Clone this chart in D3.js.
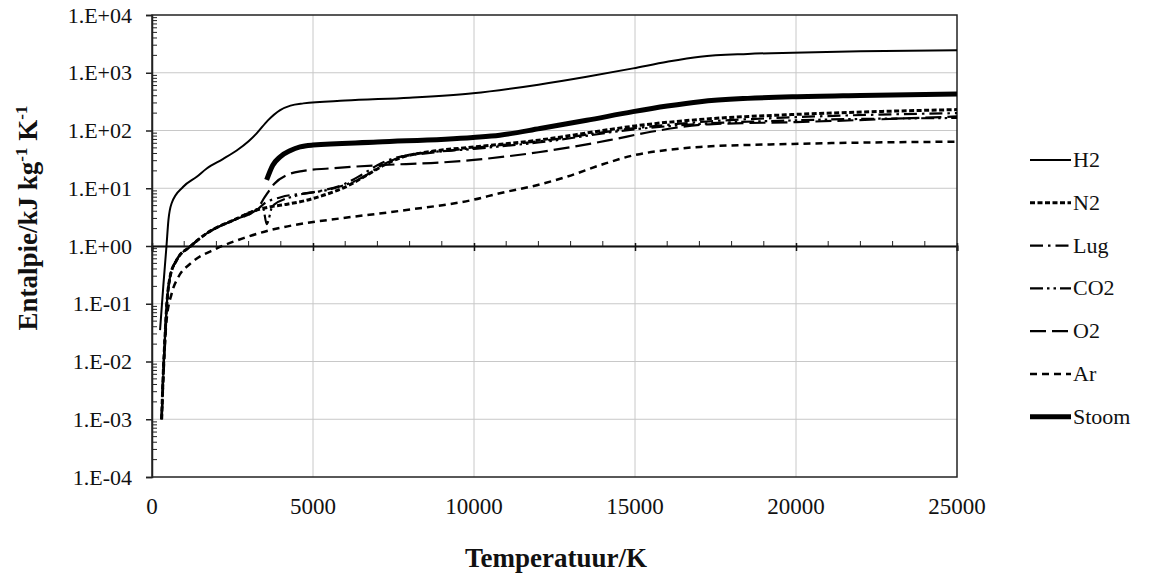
<!DOCTYPE html>
<html><head><meta charset="utf-8">
<script src="https://cdn.jsdelivr.net/npm/d3@7"></script>
<style>body{margin:0;background:#fff;} svg{display:block;font-family:"Liberation Serif","Times New Roman",serif;}</style>
</head><body>
<svg id="c" width="1174" height="574"></svg>
<script>
const xTicks = [0,5000,10000,15000,20000,25000];
const yTicks = [1e-4,1e-3,1e-2,1e-1,1,10,100,1000,10000];
const yTickLabels = ["1.E-04","1.E-03","1.E-02","1.E-01","1.E+00","1.E+01","1.E+02","1.E+03","1.E+04"];
const seriesNames = ["H2","N2","Lug","CO2","O2","Ar","Stoom"];

const H2 = [[250,0.035],[350,0.2],[450,1.0],[510,2.8],[610,5.5],[970,10.6],[1390,15.8],[1700,22],[2200,32],[2630,45],[3000,65],[3250,89],[3600,150],[3980,226],[4300,270],[4700,295],[6000,330],[8000,370],[9970,440],[12000,620],[13500,850],[14940,1190],[16000,1550],[17020,1900],[18500,2120],[19900,2230],[22000,2350],[25000,2460]];
const N2 = [[300,0.001],[350,0.0063],[400,0.024],[455,0.089],[560,0.29],[765,0.57],[1180,0.97],[1700,1.66],[2530,2.8],[3250,4.2],[3700,4.8],[4200,5.3],[4800,6.2],[5400,7.8],[6000,10.5],[6600,16],[7200,25],[7800,35],[8500,42],[10000,52],[12000,68],[14000,100],[15000,120],[17000,155],[20000,190],[25000,230]];
const Lug = [[300,0.001],[350,0.0063],[400,0.024],[455,0.089],[560,0.29],[765,0.57],[1180,0.97],[1700,1.66],[2530,2.8],[3250,4.2],[3500,5.5],[4000,7],[5000,8.5],[6000,12],[6500,17],[7000,25],[7500,33],[8500,40],[10000,50],[12000,65],[15000,110],[17000,140],[20000,170],[25000,200]];
const CO2 = [[300,0.001],[350,0.0063],[400,0.024],[455,0.089],[560,0.29],[765,0.57],[1180,0.97],[1700,1.66],[2530,2.8],[3250,4.2],[3450,4.5],[3560,2.4],[3750,5],[4500,7.5],[5500,9.5],[6500,15],[7200,26],[8000,38],[10000,48],[12000,62],[15000,105],[17000,130],[20000,150],[25000,165]];
const O2 = [[300,0.001],[350,0.0063],[400,0.024],[455,0.089],[560,0.29],[765,0.57],[1180,0.97],[1700,1.66],[2530,2.8],[3250,4.3],[3500,7],[3800,12],[4200,17],[4700,20],[5500,22],[7000,25],[9000,28],[10000,31],[12000,42],[14200,68],[15500,95],[17300,128],[20000,140],[25000,175]];
const Ar = [[300,0.001],[450,0.05],[610,0.15],[820,0.29],[1200,0.5],[2000,0.9],[2900,1.4],[3700,1.9],[4800,2.5],[5840,3],[7900,4.2],[9970,6.3],[10800,8.2],[11950,11.3],[12880,15.8],[14000,26],[14940,37],[16000,46],[17020,52],[19900,58.5],[25000,64]];
const Stoom = [[3560,13.9],[3750,25],[3980,35],[4300,45],[4600,52],[5000,56],[7000,63],[9970,76],[10800,83],[12050,108],[13500,150],[14940,212],[16000,265],[17020,316],[18500,360],[19900,385],[22000,405],[25000,427]];

const seriesData = [H2,N2,Lug,CO2,O2,Ar,Stoom];
const styles = [
  {w:2, dash:null},
  {w:3, dash:"5,2.5"},
  {w:2.2, dash:"13,5,2.5,5"},
  {w:2.2, dash:"13,4,2.5,4,2.5,4"},
  {w:2.2, dash:"16,6"},
  {w:2.5, dash:"7,5"},
  {w:5, dash:null}
];

const svg = d3.select("#c");
const L=152, R=957, T=15, B=477;
const x = d3.scaleLinear().domain([0,25000]).range([L,R]);
const y = d3.scaleLog().domain([1e-4,1e4]).range([B,T]);

// grid
const g = svg.append("g");
g.selectAll(".vg").data(xTicks.slice(1,-1)).join("line")
  .attr("x1",d=>x(d)).attr("x2",d=>x(d)).attr("y1",T).attr("y2",B)
  .attr("stroke","#c8c8c8").attr("stroke-width",1);
g.selectAll(".hg").data(yTicks.slice(1,-1)).join("line")
  .attr("x1",L).attr("x2",R).attr("y1",d=>y(d)).attr("y2",d=>y(d))
  .attr("stroke","#c8c8c8").attr("stroke-width",1);

// y minor ticks
const minor = [];
for (let e=-4;e<4;e++) for (let k=2;k<=9;k++) minor.push(k*Math.pow(10,e));
g.selectAll(".ym").data(minor).join("line")
  .attr("x1",L).attr("x2",L+5).attr("y1",d=>y(d)).attr("y2",d=>y(d))
  .attr("stroke","#222").attr("stroke-width",1);
// y axis
const yAxis = d3.axisLeft(y).tickValues(yTicks).tickFormat((d,i)=>yTickLabels[i]).tickSize(6).tickPadding(14);
const ya = svg.append("g").attr("transform",`translate(${L},0)`).call(yAxis);
ya.select(".domain").attr("stroke","#222").attr("stroke-width",1.5);
ya.selectAll(".tick line").attr("stroke","#222").attr("stroke-width",1.5);
ya.selectAll("text").attr("font-size",22).attr("fill","#111").attr("font-family","Liberation Serif");

// x axis line at y=1
const x1 = y(1);
const xAxis = d3.axisBottom(x).tickValues(xTicks).tickFormat("").tickSize(5);
const xa = svg.append("g").attr("transform",`translate(0,${x1})`).call(xAxis);
xa.select(".domain").attr("stroke","#111").attr("stroke-width",2);
xa.selectAll(".tick line").attr("stroke","#111").attr("stroke-width",1.5).attr("y1",-3);
const xmin = d3.range(1000,25000,1000).filter(d=>d%5000!==0);
svg.selectAll(".xm").data(xmin).join("line")
  .attr("x1",d=>x(d)).attr("x2",d=>x(d)).attr("y1",x1).attr("y2",x1-5)
  .attr("stroke","#222").attr("stroke-width",1);
// x tick labels at bottom
svg.selectAll(".xl").data(xTicks).join("text")
  .attr("x",d=>x(d)).attr("y",514).attr("text-anchor","middle")
  .attr("font-size",23).attr("fill","#111").text(d=>d);

// box
svg.append("rect").attr("x",L).attr("y",T).attr("width",R-L).attr("height",B-T)
  .attr("fill","none").attr("stroke","#222").attr("stroke-width",1.5);

// lines
const line = d3.line().x(d=>x(d[0])).y(d=>y(d[1])).curve(d3.curveMonotoneX);
seriesData.forEach((s,i)=>{
  svg.append("path").datum(s).attr("d",line).attr("fill","none")
    .attr("stroke","#000").attr("stroke-width",styles[i].w)
    .attr("stroke-dasharray",styles[i].dash).attr("stroke-linejoin","round");
});

// legend
const lg = svg.append("g");
seriesNames.forEach((n,i)=>{
  const yy = 160 + i*42.8;
  lg.append("line").attr("x1",1030).attr("x2",1071).attr("y1",yy).attr("y2",yy)
    .attr("stroke","#000").attr("stroke-width",styles[i].w).attr("stroke-dasharray",styles[i].dash);
  lg.append("text").attr("x",1073).attr("y",yy+7).attr("font-size",22).attr("fill","#111").text(n);
});

// axis titles
svg.append("text").attr("x",556).attr("y",567).attr("text-anchor","middle")
  .attr("font-size",27).attr("font-weight","bold").attr("fill","#111").text("Temperatuur/K");
const yt = svg.append("text").attr("transform","translate(37,218) rotate(-90)").attr("text-anchor","middle")
  .attr("font-size",27).attr("font-weight","bold").attr("fill","#111");
yt.append("tspan").text("Entalpie/kJ kg");
yt.append("tspan").attr("font-size",17).attr("dy",-10).text("-1");
yt.append("tspan").attr("dy",10).text(" K");
yt.append("tspan").attr("font-size",17).attr("dy",-10).text("-1");
</script>
</body></html>
